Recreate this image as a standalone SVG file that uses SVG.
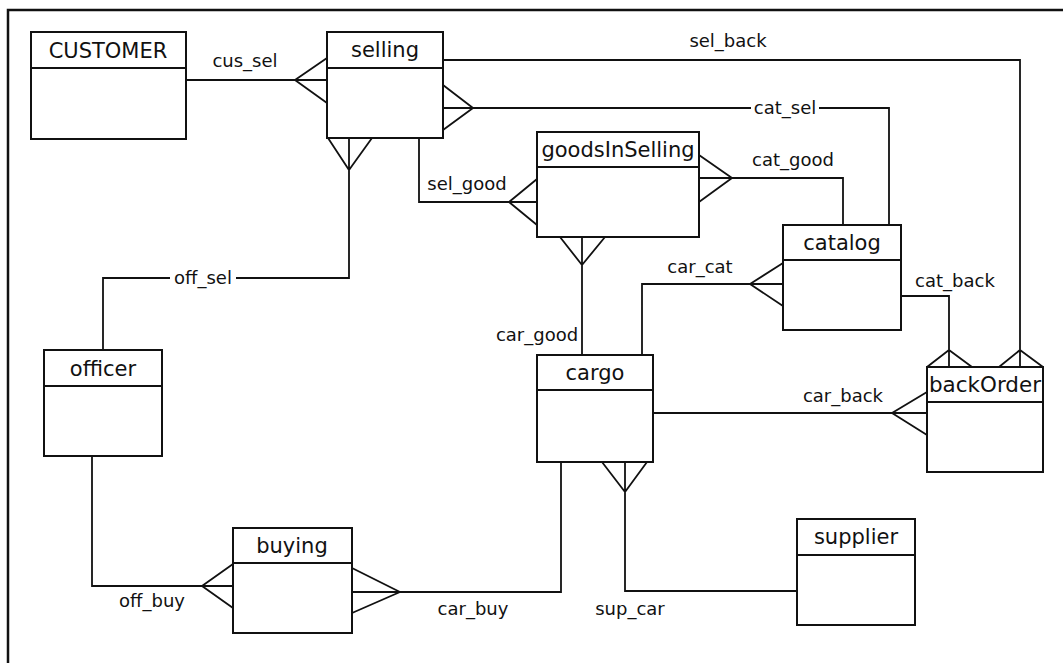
<svg xmlns="http://www.w3.org/2000/svg" width="1063" height="663" viewBox="0 0 1063 663">
<style>
.box{fill:#fff;stroke:#111;stroke-width:2}
.div{stroke:#111;stroke-width:2}
.t{font-family:"DejaVu Sans",Verdana,sans-serif;font-size:21px;fill:#111;text-anchor:middle}
.c{fill:none;stroke:#111;stroke-width:1.8;stroke-linejoin:miter}
.l{font-family:"DejaVu Sans",Verdana,sans-serif;font-size:18px;fill:#111;text-anchor:middle}
.frame{fill:none;stroke:#111;stroke-width:2.5}
</style>
<rect width="1063" height="663" fill="#fff"/>
<path class="frame" d="M8,663 V10 H1063"/>
<g id="connectors">
  <!-- cus_sel -->
  <path class="c" d="M186,80 H327 M295,80 L327,58 M295,80 L327,103"/>
  <text class="l" x="245" y="67">cus_sel</text>
  <!-- sel_back -->
  <path class="c" d="M443,60 H1020 V367 M1020,350 L999,367 M1020,350 L1043,367"/>
  <text class="l" x="728" y="47">sel_back</text>
  <!-- cat_sel -->
  <path class="c" d="M443,108 H751 M819,108 H889 V225 M473,108 L443,85 M473,108 L443,130"/>
  <text class="l" x="785" y="114">cat_sel</text>
  <!-- cat_good -->
  <path class="c" d="M699,178 H843 V225 M732,178 L699,155 M732,178 L699,202"/>
  <text class="l" x="793" y="166">cat_good</text>
  <!-- sel_good -->
  <path class="c" d="M419,138 V202 H537 M509,202 L537,179 M509,202 L537,225"/>
  <text class="l" x="467" y="190">sel_good</text>
  <!-- off_sel -->
  <path class="c" d="M349,138 V278 H236 M170,278 H103 V350 M349,170 L328,138 M349,170 L372,138"/>
  <text class="l" x="203" y="284">off_sel</text>
  <!-- car_good -->
  <path class="c" d="M582,237 V355 M582,265 L560,237 M582,265 L605,237"/>
  <text class="l" x="537" y="341">car_good</text>
  <!-- car_cat -->
  <path class="c" d="M642,355 V284 H783 M750,284 L783,263 M750,284 L783,306"/>
  <text class="l" x="700" y="273">car_cat</text>
  <!-- cat_back -->
  <path class="c" d="M901,296 H949 V367 M949,350 L927,367 M949,350 L972,367"/>
  <text class="l" x="955" y="287">cat_back</text>
  <!-- car_back -->
  <path class="c" d="M653,413 H927 M892,413 L927,392 M892,413 L927,435"/>
  <text class="l" x="843" y="402">car_back</text>
  <!-- off_buy -->
  <path class="c" d="M92,456 V586 H233 M202,586 L233,564 M202,586 L233,608"/>
  <text class="l" x="152" y="607">off_buy</text>
  <!-- car_buy -->
  <path class="c" d="M352,592 H561 V462 M400,592 L352,568 M400,592 L352,613"/>
  <text class="l" x="473" y="615">car_buy</text>
  <!-- sup_car -->
  <path class="c" d="M625,462 V591 H797 M625,492 L602,462 M625,492 L647,462"/>
  <text class="l" x="630" y="615">sup_car</text>
</g>
<g id="CUSTOMER">
  <rect class="box" x="31" y="32" width="155" height="107"/>
  <line class="div" x1="31" y1="68" x2="186" y2="68"/>
  <text class="t" x="108" y="58">CUSTOMER</text>
</g>
<g id="selling">
  <rect class="box" x="327" y="32" width="116" height="106"/>
  <line class="div" x1="327" y1="68" x2="443" y2="68"/>
  <text class="t" x="385" y="57">selling</text>
</g>
<g id="goodsInSelling">
  <rect class="box" x="537" y="132" width="162" height="105"/>
  <line class="div" x1="537" y1="167" x2="699" y2="167"/>
  <text class="t" x="618" y="157">goodsInSelling</text>
</g>
<g id="catalog">
  <rect class="box" x="783" y="225" width="118" height="105"/>
  <line class="div" x1="783" y1="260" x2="901" y2="260"/>
  <text class="t" x="842" y="250">catalog</text>
</g>
<g id="officer">
  <rect class="box" x="44" y="350" width="118" height="106"/>
  <line class="div" x1="44" y1="386" x2="162" y2="386"/>
  <text class="t" x="103" y="376">officer</text>
</g>
<g id="cargo">
  <rect class="box" x="537" y="355" width="116" height="107"/>
  <line class="div" x1="537" y1="390" x2="653" y2="390"/>
  <text class="t" x="595" y="380">cargo</text>
</g>
<g id="backOrder">
  <rect class="box" x="927" y="367" width="116" height="105"/>
  <line class="div" x1="927" y1="402" x2="1043" y2="402"/>
  <text class="t" x="985" y="392" textLength="112" lengthAdjust="spacingAndGlyphs">backOrder</text>
</g>
<g id="buying">
  <rect class="box" x="233" y="528" width="119" height="105"/>
  <line class="div" x1="233" y1="563" x2="352" y2="563"/>
  <text class="t" x="292" y="553">buying</text>
</g>
<g id="supplier">
  <rect class="box" x="797" y="519" width="118" height="106"/>
  <line class="div" x1="797" y1="555" x2="915" y2="555"/>
  <text class="t" x="856" y="544">supplier</text>
</g>
</svg>
